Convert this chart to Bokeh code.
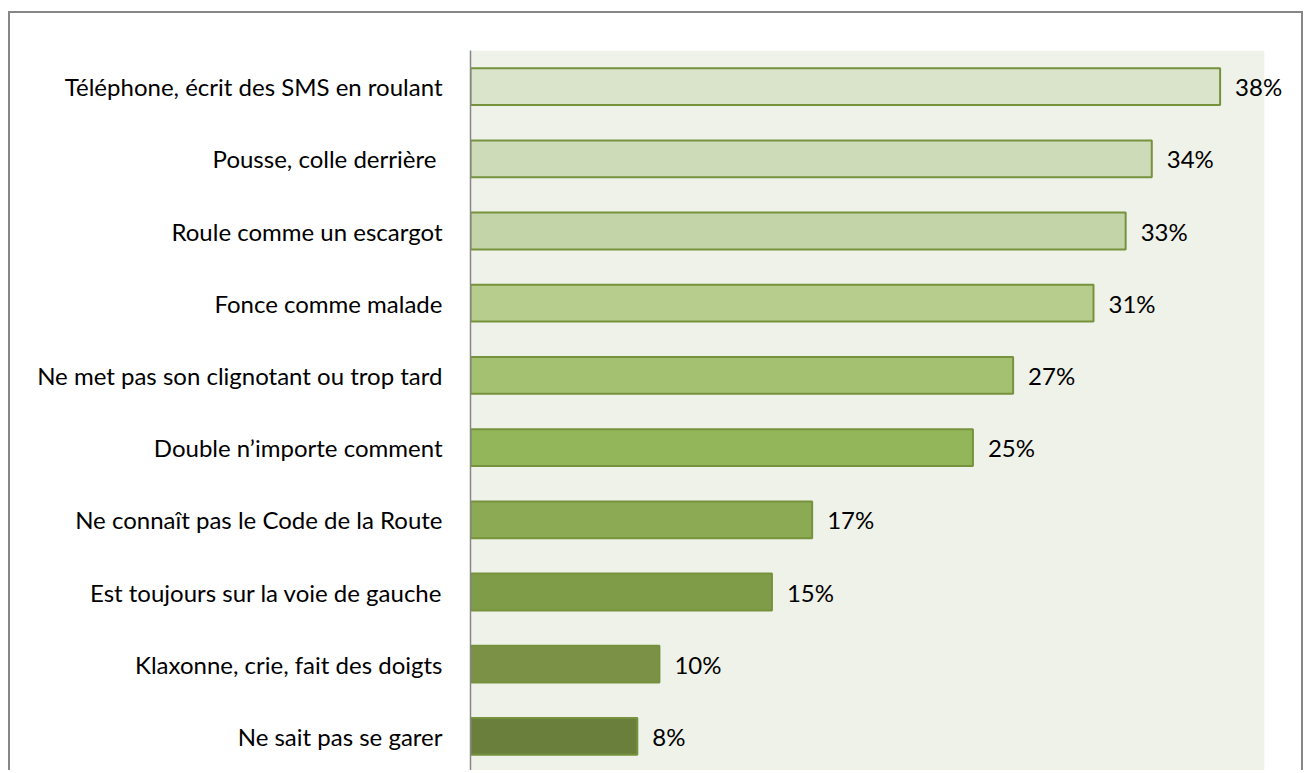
from bokeh.plotting import figure
from bokeh.models import ColumnDataSource, FactorRange, BoxAnnotation
from bokeh.core.properties import value
from bokeh.embed import file_html
from bokeh.resources import INLINE

categories = [
    "Téléphone, écrit des SMS en roulant",
    "Pousse, colle derrière ",
    "Roule comme un escargot",
    "Fonce comme malade",
    "Ne met pas son clignotant ou trop tard",
    "Double n’importe comment",
    "Ne connaît pas le Code de la Route",
    "Est toujours sur la voie de gauche",
    "Klaxonne, crie, fait des doigts",
    "Ne sait pas se garer",
]
bar_values = [37.3, 33.9, 32.6, 31.0, 27.0, 25.0, 17.0, 15.0, 9.4, 8.3]
pct_labels = ["38%", "34%", "33%", "31%", "27%", "25%", "17%", "15%", "10%", "8%"]
colors = ["#D9E4CA", "#CDDBB9", "#C3D4A9", "#B6CD8E", "#A3C170",
          "#94B65B", "#8CA953", "#7F9C48", "#7A9146", "#6B7F3C"]
axis_max = 39.5   # end of the shaded plot area
view_max = 41.3   # extra room on the right for the value labels

FONT = "Lato"

src = ColumnDataSource(dict(cat=categories, val=bar_values, lab=pct_labels, col=colors))

p = figure(
    y_range=FactorRange(*list(reversed(categories)), range_padding=0),
    x_range=(0, view_max),
    width=1295, height=759,
    output_backend="svg", toolbar_location=None,
    min_border_left=460, min_border_right=5, min_border_top=37, min_border_bottom=0,
    background_fill_color="white", border_fill_color="white",
    outline_line_color=None,
    margin=(11, 0, 0, 8),
)
p.styles = {"border-top": "2px solid #878787", "border-left": "2px solid #878787",
            "border-right": "2px solid #878787"}

p.add_layout(BoxAnnotation(left=0, right=axis_max, fill_color="#EFF2E9", fill_alpha=1.0,
                           line_color=None, level="underlay"))

p.hbar(y="cat", right="val", left=0, height=0.51, source=src,
       fill_color="col", line_color="#76923C", line_width=2)

p.text(x="val", y="cat", text="lab", source=src, x_offset=15,
       text_baseline="middle", text_align="left",
       text_font=value(FONT), text_font_size="24px", text_color="#000000")

p.xaxis.visible = False
p.xgrid.visible = False
p.ygrid.visible = False
p.yaxis.major_tick_line_color = None
p.yaxis.minor_tick_line_color = None
p.yaxis.axis_line_color = "#868686"
p.yaxis.axis_line_width = 1.5
p.yaxis.major_label_standoff = 22
p.yaxis.major_label_text_font = FONT
p.yaxis.major_label_text_font_size = "24px"
p.yaxis.major_label_text_color = "#000000"

open("out.html", "w").write(file_html(p, INLINE))
